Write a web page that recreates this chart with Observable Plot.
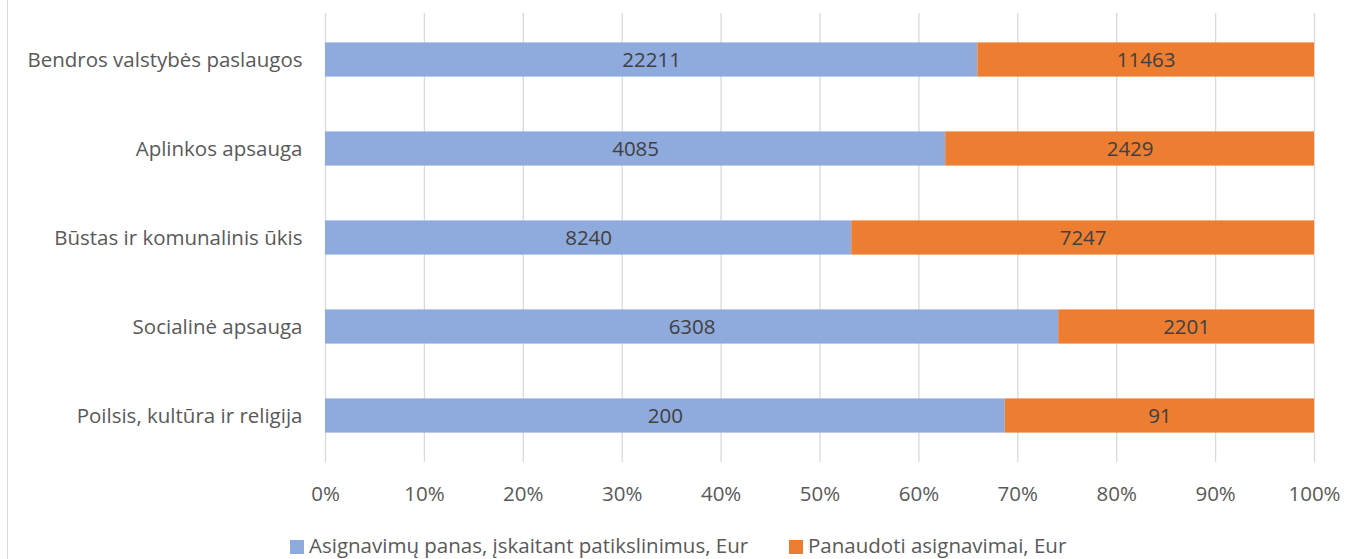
<!DOCTYPE html>
<html><head><meta charset="utf-8">
<script src="https://cdn.jsdelivr.net/npm/d3@7"></script>
<script src="https://cdn.jsdelivr.net/npm/@observablehq/plot@0.6"></script>
<style>
body{margin:0;background:#fff;font-family:"Open Sans",sans-serif;}
#wrap{position:relative;width:1346px;height:559px;overflow:hidden;}
#frame{position:absolute;left:7px;top:0;width:1px;height:559px;background:#d9d9d9;}
#chart{position:absolute;left:0;top:0;}
#legend{position:absolute;left:0;top:531px;width:1346px;height:28px;font-size:20.5px;line-height:28px;color:#595959;}
.li{position:absolute;top:0;display:flex;align-items:center;height:28px;white-space:nowrap;}
.sw{width:14px;height:14px;margin-right:5px;margin-top:3px;}
</style></head><body>
<div id="wrap"><div id="frame"></div><div id="chart"></div><div id="legend"></div></div>
<script>
const categories = ["Bendros valstybės paslaugos","Aplinkos apsauga","Būstas ir komunalinis ūkis","Socialinė apsauga","Poilsis, kultūra ir religija"];
const seriesNames = ["Asignavimų panas, įskaitant patikslinimus, Eur","Panaudoti asignavimai, Eur"];
const planned = [22211,4085,8240,6308,200];
const used = [11463,2429,7247,2201,91];
const colors = ["#8faadc","#ed7d31"];
const xTicks = [0,0.1,0.2,0.3,0.4,0.5,0.6,0.7,0.8,0.9,1];

const data = [];
categories.forEach((c,i)=>{
  data.push({cat:c, series:seriesNames[0], value:planned[i]});
  data.push({cat:c, series:seriesNames[1], value:used[i]});
});

const fmt = d=>Math.round(d*100)+"%";
const FS = 20.5;
const chart = Plot.plot({
  width:1346, height:528,
  marginTop:13, marginBottom:66, marginLeft:325, marginRight:32,
  style:{fontFamily:"'Open Sans', sans-serif", fontSize:FS+"px", color:"#595959", background:"transparent"},
  x:{domain:[0,1], ticks:xTicks, tickFormat:fmt, label:null},
  y:{domain:categories, padding:0, label:null},
  color:{domain:seriesNames, range:colors},
  marks:[
    Plot.gridX(xTicks,{stroke:"#d9d9d9", strokeOpacity:1, strokeWidth:1.3}),
    Plot.barX(data, Plot.stackX({x:"value", y:"cat", fill:"series", offset:"normalize", order:seriesNames, insetTop:27.4, insetBottom:27.4})),
    Plot.text(data, Plot.stackX({x:"value", y:"cat", z:"series", text:d=>String(d.value), offset:"normalize", order:seriesNames, fill:"#404040", fontSize:FS})),
    Plot.axisX({ticks:xTicks, tickFormat:fmt, tickSize:0, tickPadding:24, fontSize:FS, fill:"#595959"}),
    Plot.axisY({tickSize:0, tickPadding:23, fontSize:FS, fill:"#595959"})
  ]
});
document.getElementById("chart").appendChild(chart);

const lg = document.getElementById("legend");
const lefts = [290,789];
seriesNames.forEach((s,i)=>{
  const d = document.createElement("div");
  d.className="li"; d.style.left=lefts[i]+"px";
  d.innerHTML = `<div class="sw" style="background:${colors[i]}"></div><span>${s}</span>`;
  lg.appendChild(d);
});
</script>
</body></html>
